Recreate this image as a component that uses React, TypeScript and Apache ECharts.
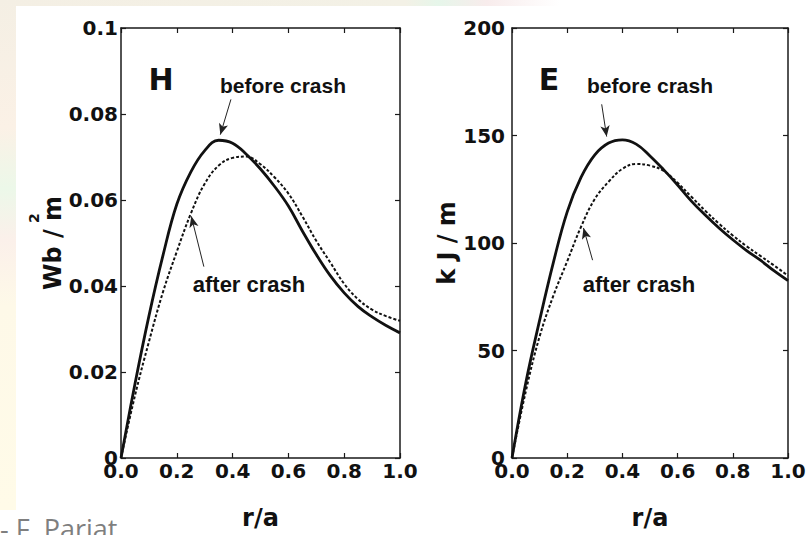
import React, { useEffect, useRef } from "react";
import * as echarts from "echarts";

// r/a sample positions
const rValues = [0, 0.05, 0.1, 0.15, 0.2, 0.25, 0.3, 0.35, 0.4, 0.45, 0.5, 0.55, 0.6, 0.65, 0.7, 0.75, 0.8, 0.85, 0.9, 0.95, 1.0];

// Helicity H (Wb^2/m)
const hBefore = [0, 0.0172, 0.033, 0.047, 0.059, 0.0665, 0.0715, 0.0739, 0.0732, 0.0706, 0.0672, 0.0632, 0.0586, 0.0528, 0.0473, 0.0424, 0.0384, 0.0352, 0.0328, 0.0308, 0.0291];
const hAfter = [0, 0.0145, 0.027, 0.0385, 0.048, 0.0568, 0.0638, 0.068, 0.0698, 0.0701, 0.0683, 0.0653, 0.0615, 0.0562, 0.0505, 0.0455, 0.0405, 0.0369, 0.0345, 0.033, 0.0319];

// Energy E (kJ/m)
const eBefore = [0, 35, 64, 91, 114.5, 130.5, 141, 146.5, 148, 146, 140.5, 134, 127, 119.5, 113, 107, 101.5, 96.5, 92, 87, 82.5];
const eAfter = [0, 31, 56.5, 75.5, 91.5, 107.5, 120.5, 128.5, 134.5, 136.8, 136, 133.5, 128, 121.5, 115, 109, 103.5, 98.5, 94, 89.5, 84.8];

const seriesNames = ["before crash", "after crash"];
const panelLetters = ["H", "E"];
const xAxisName = "r/a";
const yAxisNames = ["Wb / m", "k J / m"];

const TICK_FONT = "'DejaVu Sans', sans-serif";
const NARROW_FONT = "'Liberation Sans Narrow', 'Liberation Sans', sans-serif";
const INK = "#111";

const pairs = (ys: number[]) => rValues.map((r, i) => [r, ys[i]]);

export default function App() {
  const ref = useRef<HTMLDivElement>(null);

  useEffect(() => {
    if (!ref.current) return;
    const chart = echarts.init(ref.current, null, { renderer: "svg" });

    const axisLine = { show: true, onZero: false, lineStyle: { color: "#1a1a1a", width: 1.5 } };
    const axisTick = { show: true, inside: true, length: 5, lineStyle: { color: "#1a1a1a", width: 1.2 } };
    const labelStyle = { fontFamily: TICK_FONT, fontWeight: "bold" as const, fontSize: 20, color: INK };
    const nameStyle = { fontFamily: TICK_FONT, fontWeight: "bold" as const, fontSize: 24, color: INK };

    const makeX = (grid: number, pos: "bottom" | "top") => ({
      gridIndex: grid,
      type: "value",
      min: 0,
      max: 1,
      interval: 0.2,
      position: pos,
      axisLine,
      axisTick,
      splitLine: { show: false },
      axisLabel:
        pos === "bottom"
          ? { show: true, margin: 3, formatter: (v: number) => v.toFixed(1), ...labelStyle }
          : { show: false },
      name: pos === "bottom" ? xAxisName : "",
      nameLocation: "middle",
      nameGap: 48,
      nameTextStyle: nameStyle,
    });

    const makeY = (grid: number, pos: "left" | "right", max: number, interval: number, fmt: (v: number) => string, margin: number, nameGap: number) => ({
      gridIndex: grid,
      type: "value",
      min: 0,
      max,
      interval,
      position: pos,
      axisLine,
      axisTick,
      splitLine: { show: false },
      axisLabel: pos === "left" ? { show: true, margin, formatter: fmt, ...labelStyle } : { show: false },
      name: pos === "left" ? yAxisNames[grid] : "",
      nameLocation: "middle",
      nameGap,
      nameTextStyle: nameStyle,
    });

    const hFmt = (v: number) => (v === 0 ? "0" : Math.abs(v - 0.1) < 1e-9 ? "0.1" : v.toFixed(2));
    const eFmt = (v: number) => String(Math.round(v));

    const arrowLine = (data: any[]) => ({
      silent: true,
      symbol: ["none", "arrow"],
      symbolSize: [7, 11],
      label: { show: false },
      emphasis: { disabled: true },
      lineStyle: { color: "#222", width: 1, type: "solid" },
      data,
    });

    const solid = { color: INK, width: 2.8, type: "solid" as const };
    const dashed = { color: INK, width: 2, type: [3, 2] as any };

    const textEl = (text: string, x: number, y: number, font: string, size: number, weight = "bold") => ({
      type: "text",
      x,
      y,
      style: { text, fontFamily: font, fontSize: size, fontWeight: weight, fill: INK, align: "center", verticalAlign: "middle" },
      z: 10,
    });

    chart.setOption({
      animation: false,
      backgroundColor: "#ffffff",
      grid: [
        { left: 121, top: 28, width: 279, height: 433 },
        { left: 512, top: 28, width: 276, height: 432 },
      ],
      xAxis: [makeX(0, "bottom"), makeX(0, "top"), makeX(1, "bottom"), makeX(1, "top")],
      yAxis: [
        makeY(0, "left", 0.1, 0.02, hFmt, 3, 52),
        makeY(0, "right", 0.1, 0.02, hFmt, 3, 52),
        makeY(1, "left", 200, 50, eFmt, 7, 50),
        makeY(1, "right", 200, 50, eFmt, 7, 50),
      ],
      series: [
        {
          name: seriesNames[0],
          type: "line",
          xAxisIndex: 0,
          yAxisIndex: 0,
          data: pairs(hBefore),
          smooth: 0.4,
          showSymbol: false,
          lineStyle: solid,
          markLine: arrowLine([[{ coord: [0.394, 0.0834] }, { coord: [0.356, 0.0752] }]]),
        },
        {
          name: seriesNames[1],
          type: "line",
          xAxisIndex: 0,
          yAxisIndex: 0,
          data: pairs(hAfter),
          smooth: 0.4,
          showSymbol: false,
          lineStyle: dashed,
          markLine: arrowLine([[{ coord: [0.297, 0.0445] }, { coord: [0.252, 0.0562] }]]),
        },
        {
          name: seriesNames[0],
          type: "line",
          xAxisIndex: 2,
          yAxisIndex: 2,
          data: pairs(eBefore),
          smooth: 0.4,
          showSymbol: false,
          lineStyle: solid,
          markLine: arrowLine([[{ coord: [0.325, 164.5] }, { coord: [0.343, 149.5] }]]),
        },
        {
          name: seriesNames[1],
          type: "line",
          xAxisIndex: 2,
          yAxisIndex: 2,
          data: pairs(eAfter),
          smooth: 0.4,
          showSymbol: false,
          lineStyle: dashed,
          markLine: arrowLine([[{ coord: [0.292, 92] }, { coord: [0.259, 107] }]]),
        },
      ],
      graphic: [
        // slide background strips
        {
          type: "rect",
          shape: { x: 0, y: 0, width: 811, height: 6 },
          style: {
            fill: new echarts.graphic.LinearGradient(0, 0, 1, 0, [
              { offset: 0, color: "#f4efe4" },
              { offset: 0.5, color: "#f3f1e6" },
              { offset: 0.54, color: "#e6f6ea" },
              { offset: 0.6, color: "#f8ecec" },
              { offset: 0.69, color: "#ffffff" },
              { offset: 1, color: "#ffffff" },
            ]),
          },
          z: 0,
          silent: true,
        },
        {
          type: "rect",
          shape: { x: 0, y: 0, width: 16, height: 510 },
          style: {
            fill: new echarts.graphic.LinearGradient(0, 0, 0, 1, [
              { offset: 0, color: "#f4efe4" },
              { offset: 0.25, color: "#fbf1e6" },
              { offset: 0.37, color: "#ecf8e9" },
              { offset: 0.47, color: "#fbf0ea" },
              { offset: 0.6, color: "#fef9e8" },
              { offset: 1, color: "#fffbe8" },
            ]),
          },
          z: 0,
          silent: true,
        },
        {
          type: "text",
          x: 0,
          y: 515,
          style: { text: "- F. Pariat", fontFamily: "'Open Sans', sans-serif", fontSize: 27, fill: "#7f7f7f", align: "left", verticalAlign: "top" },
          z: 10,
        },
        // superscript of the left axis unit
        {
          type: "text",
          x: 34,
          y: 218,
          rotation: Math.PI / 2,
          style: { text: "2", fontFamily: TICK_FONT, fontWeight: "bold", fontSize: 14, fill: INK, align: "center", verticalAlign: "middle" },
          z: 10,
        },
        textEl(panelLetters[0], 161, 79, TICK_FONT, 30),
        textEl(panelLetters[1], 549, 79, TICK_FONT, 30),
        textEl(seriesNames[0], 283, 85, NARROW_FONT, 21),
        textEl(seriesNames[0], 650, 85, NARROW_FONT, 21),
        textEl(seriesNames[1], 249, 284, NARROW_FONT, 22),
        textEl(seriesNames[1], 639, 284, NARROW_FONT, 22),
      ],
    });

    return () => chart.dispose();
  }, []);

  return (
    <div
      ref={ref}
      style={{ position: "fixed", left: 0, top: 0, width: 811, height: 535, background: "#fff" }}
    />
  );
}
